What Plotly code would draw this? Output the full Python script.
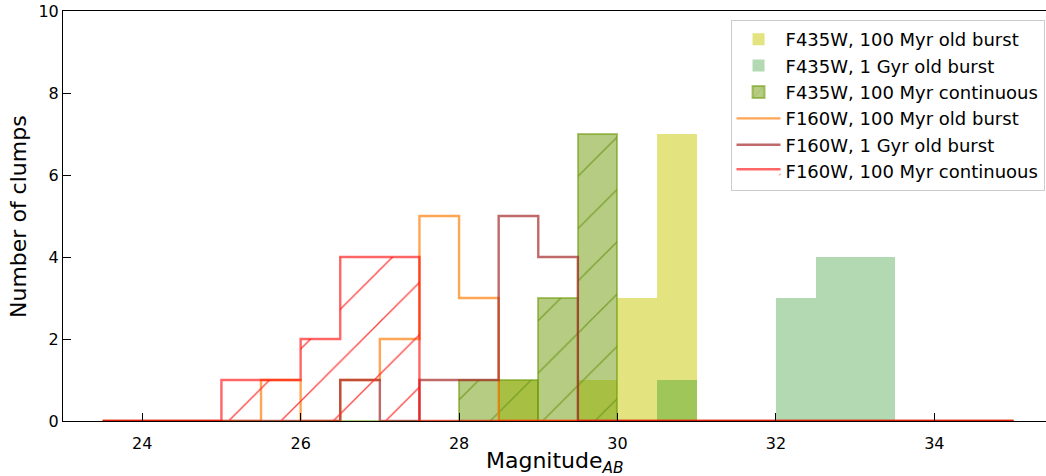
import numpy as np
import plotly.graph_objects as go

# ---- data (histogram counts per 0.5 mag bin) ----
bin_edges = [23.5, 24.0, 24.5, 25.0, 25.5, 26.0, 26.5, 27.0, 27.5, 28.0, 28.5, 29.0,
             29.5, 30.0, 30.5, 31.0, 31.5, 32.0, 32.5, 33.0, 33.5, 34.0, 34.5, 35.0]

f435w_100myr_burst = [0, 0, 0, 0, 0, 0, 0, 0, 0, 0, 1, 0, 1, 3, 7, 0, 0, 0, 0, 0, 0, 0, 0]
f435w_1gyr_burst   = [0, 0, 0, 0, 0, 0, 0, 0, 0, 0, 0, 0, 0, 0, 1, 0, 0, 3, 4, 4, 0, 0, 0]
f435w_100myr_cont  = [0, 0, 0, 0, 0, 0, 0, 0, 0, 1, 1, 3, 7, 0, 0, 0, 0, 0, 0, 0, 0, 0, 0]
f160w_100myr_burst = [0, 0, 0, 0, 1, 0, 1, 2, 5, 3, 0, 0, 0, 0, 0, 0, 0, 0, 0, 0, 0, 0, 0]
f160w_1gyr_burst   = [0, 0, 0, 0, 0, 0, 1, 0, 1, 1, 5, 4, 0, 0, 0, 0, 0, 0, 0, 0, 0, 0, 0]
f160w_100myr_cont  = [0, 0, 0, 1, 1, 2, 4, 4, 0, 0, 0, 0, 0, 0, 0, 0, 0, 0, 0, 0, 0, 0, 0]

x_ticks = [24, 26, 28, 30, 32, 34]
y_ticks = [0, 2, 4, 6, 8, 10]

edges = np.asarray(bin_edges)
centers = (edges[:-1] + edges[1:]) / 2
widths = np.diff(edges)


def step_xy(e, counts):
    c = np.asarray(counts, dtype=float)
    x = np.repeat(e, 2)
    y = np.concatenate([[0.0], np.repeat(c, 2), [0.0]])
    return x, y


fig = go.Figure()

fig.add_trace(go.Bar(
    x=centers, y=f435w_100myr_burst, width=widths,
    name="F435W, 100 Myr old burst",
    marker=dict(color="rgba(199,201,0,0.5)", line=dict(width=0)),
))
fig.add_trace(go.Bar(
    x=centers, y=f435w_1gyr_burst, width=widths,
    name="F435W, 1 Gyr old burst",
    marker=dict(color="rgba(0,128,0,0.3)", line=dict(width=0)),
))
fig.add_trace(go.Bar(
    x=centers, y=f435w_100myr_cont, width=widths,
    name="F435W, 100 Myr continuous",
    marker=dict(color="rgba(107,153,5,0.5)",
                line=dict(width=2, color="rgba(107,153,5,0.55)"),
                pattern=dict(shape="/", size=37, solidity=0.035,
                             fgcolor="rgb(115,155,35)", fgopacity=0.9,
                             bgcolor="rgba(107,153,5,0.5)")),
))

for counts, name, col, hatch in [
    (f160w_100myr_burst, "F160W, 100 Myr old burst", "rgba(255,127,14,0.7)", False),
    (f160w_1gyr_burst, "F160W, 1 Gyr old burst", "rgba(165,42,42,0.7)", False),
    (f160w_100myr_cont, "F160W, 100 Myr continuous", "rgba(255,0,0,0.6)", True),
]:
    sx, sy = step_xy(edges, counts)
    kw = {}
    if hatch:
        kw = dict(fill="toself", fillcolor="rgba(0,0,0,0)",
                  fillpattern=dict(shape="/", size=37, solidity=0.035,
                                   fgcolor="rgb(255,40,40)", fgopacity=0.9,
                                   bgcolor="rgba(255,255,255,0)"))
    fig.add_trace(go.Scatter(
        x=sx, y=sy, mode="lines", name=name,
        line=dict(color=col, width=2.4), **kw,
    ))

axis_common = dict(
    showgrid=False, zeroline=False, showline=True, linecolor="black",
    linewidth=1, ticks="inside", ticklen=8, tickwidth=1, tickcolor="black",
    tickfont=dict(size=16, color="black"), automargin=False,
)

fig.update_xaxes(range=[23.0, 35.41], tickvals=x_ticks, mirror=True,
                 ticklabelstandoff=8, **axis_common)
fig.update_yaxes(range=[0, 10], tickvals=y_ticks, **axis_common)

fig.add_annotation(text="Magnitude<sub><i>AB</i></sub>", xref="paper", yref="paper",
                   x=0.5007, y=-0.062, xanchor="center", yanchor="top",
                   showarrow=False, font=dict(size=22, color="black"))
fig.add_annotation(text="Number of clumps", xref="paper", yref="paper",
                   x=-0.0458, y=0.5, xanchor="center", yanchor="middle",
                   textangle=-90, showarrow=False,
                   font=dict(size=22, color="black"))

fig.update_layout(
    width=1046, height=476,
    margin=dict(l=63, r=0, t=11, b=55),
    plot_bgcolor="white", paper_bgcolor="white",
    barmode="overlay", bargap=0,
    font=dict(family="DejaVu Sans", size=16, color="black"),
    legend=dict(x=0.9985, y=0.978, xanchor="right", yanchor="top",
                bgcolor="rgba(255,255,255,0.8)", bordercolor="#cccccc",
                borderwidth=1, font=dict(size=18), itemwidth=44),
)

fig.write_html("out.html",
               config={"displayModeBar": False},
               post_script="document.body.style.margin='0';"
                           "document.body.style.padding='0';")
